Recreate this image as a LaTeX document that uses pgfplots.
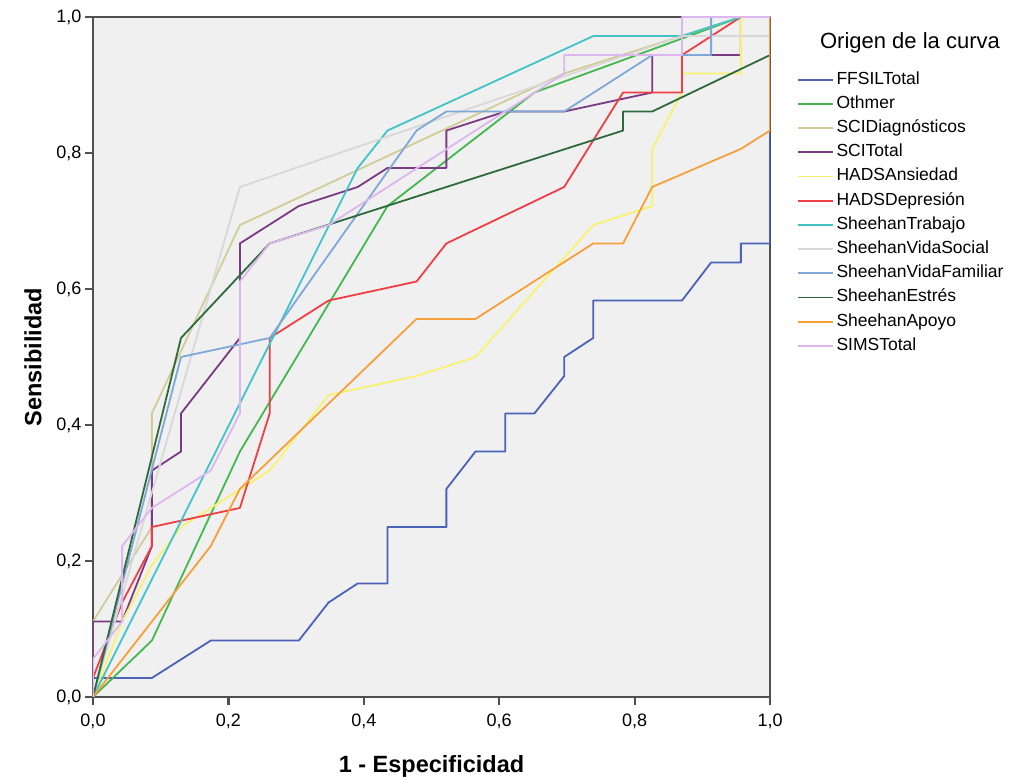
\documentclass[border=0pt]{standalone}
\usepackage{fontspec}
\setmainfont{Liberation Sans}
\usepackage{pgfplots}
\pgfplotsset{compat=1.18}

\definecolor{cFFSIL}{HTML}{4A62B8}
\definecolor{cOthmer}{HTML}{42B84F}
\definecolor{cSCIDiag}{HTML}{D2CC96}
\definecolor{cSCITot}{HTML}{7B3A84}
\definecolor{cHADSA}{HTML}{F9F26E}
\definecolor{cHADSD}{HTML}{EE3F45}
\definecolor{cShTrab}{HTML}{40C4C8}
\definecolor{cShSoc}{HTML}{D8D8D8}
\definecolor{cShFam}{HTML}{7FA8D8}
\definecolor{cShEst}{HTML}{2E6A3C}
\definecolor{cShApo}{HTML}{F6A03C}
\definecolor{cSIMS}{HTML}{DDB6EE}
\definecolor{bgc}{HTML}{F0F0F0}
\definecolor{axc}{HTML}{505050}

\begin{document}
\begin{tikzpicture}
\begin{axis}[
  name=ax, at={(0,0)}, anchor=south west,
  scale only axis, width=677pt, height=680pt,
  xmin=0, xmax=1, ymin=0, ymax=1,
  xtick={0,0.2,0.4,0.6,0.8,1}, ytick={0,0.2,0.4,0.6,0.8,1},
  tick pos=left, tick align=outside, major tick length=8pt,
  axis background/.style={fill=bgc},
  axis line style={draw=axc, line width=2.4pt},
  every tick/.style={draw=axc, line width=2.2pt},
  ticklabel style={font=\fontsize{18}{20}\selectfont},
  xticklabel style={yshift=-5pt},
  /pgf/number format/fixed, /pgf/number format/fixed zerofill,
  /pgf/number format/precision=1, /pgf/number format/use comma,
  /pgf/number format/assume math mode=true,
  xlabel={\bfseries 1 - Especificidad},
  ylabel={\bfseries Sensibilidad},
  every axis x label/.style={at={(axis description cs:0.5,0)}, yshift=-69pt, anchor=center, font=\fontsize{23.5}{26}\selectfont},
  every axis y label/.style={at={(axis description cs:0,0.5)}, xshift=-60pt, anchor=center, rotate=90, font=\fontsize{23.5}{26}\selectfont},
  legend style={at={(1,1)}, anchor=north west, xshift=27pt, yshift=-54pt,
    draw=none, fill=none, font=\fontsize{17.5}{20}\selectfont,
    row sep=7.2pt, inner sep=0pt,
    nodes={inner ysep=0pt, inner xsep=2.5pt, text height=13pt, text depth=4pt}},
  legend cell align=left,
  legend image code/.code={\draw[line width=1.8pt,#1] (0pt,0pt) -- (35pt,0pt);},
  every axis plot/.append style={line width=1.8pt, line join=round},
]
\addplot[cFFSIL] coordinates {(0,0) (0,0.028) (0.087,0.028) (0.174,0.083) (0.304,0.083) (0.348,0.139) (0.391,0.167) (0.435,0.167) (0.435,0.25) (0.522,0.25) (0.522,0.306) (0.565,0.361) (0.609,0.361) (0.609,0.417) (0.652,0.417) (0.696,0.472) (0.696,0.5) (0.739,0.528) (0.739,0.583) (0.870,0.583) (0.913,0.639) (0.957,0.639) (0.957,0.667) (1,0.667) (1,1)};
\addlegendentry{FFSILTotal}
\addplot[cOthmer] coordinates {(0,0) (0.087,0.083) (0.217,0.361) (0.435,0.722) (0.652,0.889) (0.957,1) (1,1)};
\addlegendentry{Othmer}
\addplot[cSCIDiag] coordinates {(0,0) (0,0.111) (0.087,0.25) (0.087,0.417) (0.217,0.694) (0.696,0.917) (0.957,1) (1,1)};
\addlegendentry{SCIDiagnósticos}
\addplot[cSCITot] coordinates {(0,0) (0,0.111) (0.043,0.111) (0.087,0.222) (0.087,0.333) (0.13,0.361) (0.13,0.417) (0.217,0.528) (0.217,0.667) (0.304,0.722) (0.391,0.75) (0.435,0.778) (0.522,0.778) (0.522,0.833) (0.609,0.861) (0.696,0.861) (0.826,0.889) (0.826,0.944) (0.957,0.944) (0.957,1) (1,1)};
\addlegendentry{SCITotal}
\addplot[cHADSA] coordinates {(0,0) (0.043,0.111) (0.087,0.194) (0.13,0.25) (0.261,0.333) (0.348,0.444) (0.478,0.472) (0.565,0.5) (0.739,0.694) (0.826,0.722) (0.826,0.806) (0.870,0.889) (0.870,0.917) (0.957,0.917) (0.957,1) (1,1)};
\addlegendentry{HADSAnsiedad}
\addplot[cHADSD] coordinates {(0,0) (0,0.028) (0.043,0.139) (0.087,0.222) (0.087,0.25) (0.217,0.278) (0.261,0.417) (0.261,0.528) (0.348,0.583) (0.478,0.611) (0.522,0.667) (0.696,0.75) (0.783,0.889) (0.870,0.889) (0.870,0.944) (0.957,1) (1,1)};
\addlegendentry{HADSDepresión}
\addplot[cShTrab] coordinates {(0,0) (0.391,0.778) (0.435,0.833) (0.739,0.972) (0.870,0.972) (0.957,1) (1,1)};
\addlegendentry{SheehanTrabajo}
\addplot[cShSoc] coordinates {(0,0) (0.217,0.75) (0.870,0.972) (1,0.972) (1,1)};
\addlegendentry{SheehanVidaSocial}
\addplot[cShFam] coordinates {(0,0) (0.13,0.5) (0.261,0.528) (0.478,0.833) (0.522,0.861) (0.696,0.861) (0.826,0.944) (0.913,0.944) (0.913,1) (1,1)};
\addlegendentry{SheehanVidaFamiliar}
\addplot[cShEst] coordinates {(0,0) (0.13,0.528) (0.261,0.667) (0.783,0.833) (0.783,0.861) (0.826,0.861) (1,0.944) (1,1)};
\addlegendentry{SheehanEstrés}
\addplot[cShApo] coordinates {(0,0) (0.174,0.222) (0.217,0.306) (0.478,0.556) (0.565,0.556) (0.739,0.667) (0.783,0.667) (0.826,0.75) (0.957,0.806) (1,0.833) (1,1)};
\addlegendentry{SheehanApoyo}
\addplot[cSIMS] coordinates {(0,0) (0,0.056) (0.043,0.111) (0.043,0.222) (0.087,0.278) (0.174,0.333) (0.217,0.417) (0.217,0.611) (0.261,0.667) (0.348,0.694) (0.696,0.917) (0.696,0.944) (0.870,0.944) (0.870,1) (1,1)};
\addlegendentry{SIMSTotal}
\end{axis}
\node[font=\fontsize{22}{24}\selectfont, anchor=center] at ([xshift=140pt, yshift=-26pt]ax.north east) {Origen de la curva};
\pgfresetboundingbox
\useasboundingbox ([xshift=-93pt,yshift=-83pt]ax.south west) rectangle ([xshift=251pt,yshift=17pt]ax.north east);
\end{tikzpicture}
\end{document}
